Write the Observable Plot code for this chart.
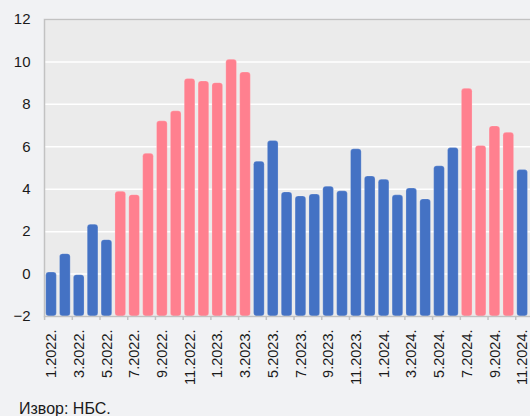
<!DOCTYPE html>
<html><head><meta charset="utf-8">
<script src="https://cdn.jsdelivr.net/npm/d3@7"></script>
<script src="https://cdn.jsdelivr.net/npm/@observablehq/plot@0.6"></script>
<style>
html,body{margin:0;padding:0;background:#f1f2f4;overflow:hidden;width:530px;height:416px}
body{font-family:"Liberation Sans",Arial,sans-serif}
#chart{width:545px}
#chart svg{display:block;max-width:none !important}
#cap{font-size:16px;color:#1a1a1a;margin:5px 0 0 19px;line-height:17px;white-space:nowrap}
</style></head><body><div id="chart"></div><div id="cap">Извор: НБС.</div>
<script>
const months = [
  "1.2022.","2.2022.","3.2022.","4.2022.","5.2022.","6.2022.","7.2022.","8.2022.","9.2022.","10.2022.","11.2022.","12.2022.",
  "1.2023.","2.2023.","3.2023.","4.2023.","5.2023.","6.2023.","7.2023.","8.2023.","9.2023.","10.2023.","11.2023.","12.2023.",
  "1.2024.","2.2024.","3.2024.","4.2024.","5.2024.","6.2024.","7.2024.","8.2024.","9.2024.","10.2024.","11.2024.","12.2024."
];
const values = [
  0.07, 0.94, -0.05, 2.33, 1.6, 3.88, 3.72, 5.67, 7.2, 7.67, 9.2, 9.08,
  9.0, 10.1, 9.5, 5.3, 6.27, 3.85, 3.66, 3.75, 4.12, 3.9, 5.88, 4.6,
  4.45, 3.71, 4.03, 3.52, 5.08, 5.94, 8.73, 6.04, 6.96, 6.66, 4.9, 4.5
];
const groups = [
  "A","A","A","A","A","B","B","B","B","B","B","B",
  "B","B","B","A","A","A","A","A","A","A","A","A",
  "A","A","A","A","A","A","B","B","B","B","A","A"
];
const xTickLabels = ["1.2022.","3.2022.","5.2022.","7.2022.","9.2022.","11.2022.","1.2023.","3.2023.","5.2023.","7.2023.","9.2023.","11.2023.","1.2024.","3.2024.","5.2024.","7.2024.","9.2024.","11.2024."];
const yTicks = [-2, 0, 2, 4, 6, 8, 10, 12];

const data = months.map((m, i) => ({month: m, value: values[i], group: groups[i]}));

const plot = Plot.plot({
  width: 545, height: 395,
  marginTop: 19, marginLeft: 44, marginRight: 2, marginBottom: 79,
  style: {background: "transparent", fontFamily: "'Liberation Sans', Arial, sans-serif", fontSize: "15px", color: "#1a1a1a", overflow: "visible", maxWidth: "none"},
  x: {domain: months, paddingInner: 0.23, paddingOuter: 0.12, round: false, label: null},
  y: {domain: [-2, 12], label: null},
  color: {domain: ["A", "B"], range: ["#4472c4", "#ff808f"]},
  marks: [
    Plot.frame({fill: "#ebebeb", stroke: null}),
    Plot.gridY(yTicks, {stroke: "#ffffff", strokeOpacity: 1, strokeWidth: 1.5}),
    Plot.barY(data, {x: "month", y1: -2, y2: "value", fill: "group", rx: 3, stroke: "#ffffff", strokeOpacity: 0.2, strokeWidth: 1}),
    Plot.frame({stroke: "#c2c2c2", strokeWidth: 1.5}),
    Plot.axisY({ticks: yTicks, tickSize: 0, tickPadding: 14, label: null}),
    Plot.axisX({ticks: xTickLabels, tickSize: 0, tickRotate: -90, tickPadding: 13, fontSize: 14.5, label: null}),
    Plot.axisX({ticks: xTickLabels, tickSize: 4, tickFormat: () => "", dx: -6.9, stroke: "#c2c2c2", strokeWidth: 1.5, label: null})
  ]
});
plot.style.maxWidth = "none";
document.getElementById("chart").appendChild(plot);
</script>
</body></html>
